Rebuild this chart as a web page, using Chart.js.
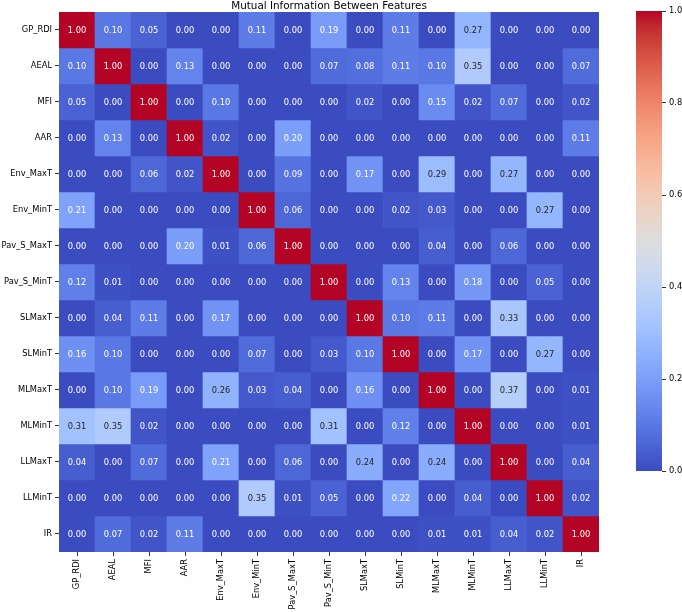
<!DOCTYPE html>
<html>
<head>
<meta charset="utf-8">
<script src="https://cdn.jsdelivr.net/npm/chart.js@4.4.0/dist/chart.umd.min.js"></script>
<style>
  html, body { margin: 0; padding: 0; background: #fff; }
  #wrap { position: relative; width: 682px; height: 612px; overflow: hidden; }
  #heat { position: absolute; left: 0; top: 0; }
  #cbar { position: absolute; left: 600px; top: 0; }
</style>
</head>
<body>
<div id="wrap">
  <canvas id="heat" width="682" height="612"></canvas>
  <canvas id="cbar" width="110" height="612"></canvas>
</div>
<script>
const features = ['GP_RDI', 'AEAL', 'MFI', 'AAR', 'Env_MaxT', 'Env_MinT', 'Pav_S_MaxT',
  'Pav_S_MinT', 'SLMaxT', 'SLMinT', 'MLMaxT', 'MLMinT', 'LLMaxT', 'LLMinT', 'IR'];

// one row of the mutual information matrix per feature
const gpRdi    = [1.00, 0.10, 0.05, 0.00, 0.00, 0.11, 0.00, 0.19, 0.00, 0.11, 0.00, 0.27, 0.00, 0.00, 0.00];
const aeal     = [0.10, 1.00, 0.00, 0.13, 0.00, 0.00, 0.00, 0.07, 0.08, 0.11, 0.10, 0.35, 0.00, 0.00, 0.07];
const mfi      = [0.05, 0.00, 1.00, 0.00, 0.10, 0.00, 0.00, 0.00, 0.02, 0.00, 0.15, 0.02, 0.07, 0.00, 0.02];
const aar      = [0.00, 0.13, 0.00, 1.00, 0.02, 0.00, 0.20, 0.00, 0.00, 0.00, 0.00, 0.00, 0.00, 0.00, 0.11];
const envMaxT  = [0.00, 0.00, 0.06, 0.02, 1.00, 0.00, 0.09, 0.00, 0.17, 0.00, 0.29, 0.00, 0.27, 0.00, 0.00];
const envMinT  = [0.21, 0.00, 0.00, 0.00, 0.00, 1.00, 0.06, 0.00, 0.00, 0.02, 0.03, 0.00, 0.00, 0.27, 0.00];
const pavSMaxT = [0.00, 0.00, 0.00, 0.20, 0.01, 0.06, 1.00, 0.00, 0.00, 0.00, 0.04, 0.00, 0.06, 0.00, 0.00];
const pavSMinT = [0.12, 0.01, 0.00, 0.00, 0.00, 0.00, 0.00, 1.00, 0.00, 0.13, 0.00, 0.18, 0.00, 0.05, 0.00];
const slMaxT   = [0.00, 0.04, 0.11, 0.00, 0.17, 0.00, 0.00, 0.00, 1.00, 0.10, 0.11, 0.00, 0.33, 0.00, 0.00];
const slMinT   = [0.16, 0.10, 0.00, 0.00, 0.00, 0.07, 0.00, 0.03, 0.10, 1.00, 0.00, 0.17, 0.00, 0.27, 0.00];
const mlMaxT   = [0.00, 0.10, 0.19, 0.00, 0.26, 0.03, 0.04, 0.00, 0.16, 0.00, 1.00, 0.00, 0.37, 0.00, 0.01];
const mlMinT   = [0.31, 0.35, 0.02, 0.00, 0.00, 0.00, 0.00, 0.31, 0.00, 0.12, 0.00, 1.00, 0.00, 0.00, 0.01];
const llMaxT   = [0.04, 0.00, 0.07, 0.00, 0.21, 0.00, 0.06, 0.00, 0.24, 0.00, 0.24, 0.00, 1.00, 0.00, 0.04];
const llMinT   = [0.00, 0.00, 0.00, 0.00, 0.00, 0.35, 0.01, 0.05, 0.00, 0.22, 0.00, 0.04, 0.00, 1.00, 0.02];
const ir       = [0.00, 0.07, 0.02, 0.11, 0.00, 0.00, 0.00, 0.00, 0.00, 0.00, 0.01, 0.01, 0.04, 0.02, 1.00];

const mi = [gpRdi, aeal, mfi, aar, envMaxT, envMinT, pavSMaxT, pavSMinT,
  slMaxT, slMinT, mlMaxT, mlMinT, llMaxT, llMinT, ir];

const cbTicks = [0, 0.2, 0.4, 0.6, 0.8, 1.0];

// matplotlib coolwarm control points
const coolwarmStops = [
  [0.2298057, 0.298717966, 0.753683153], [0.26623388, 0.353094838, 0.801466763],
  [0.30386891, 0.406535296, 0.84495867], [0.342804478, 0.458757618, 0.883725899],
  [0.38301334, 0.50941904, 0.917387822], [0.424369608, 0.558148092, 0.945619588],
  [0.46666708, 0.604562568, 0.968154911], [0.509635204, 0.648280772, 0.98478814],
  [0.552953156, 0.688929332, 0.995375608], [0.596262162, 0.726149107, 0.999836203],
  [0.639176211, 0.759599947, 0.998151185], [0.681291281, 0.788964712, 0.990363227],
  [0.722193294, 0.813952739, 0.976574709], [0.761464949, 0.834302879, 0.956945269],
  [0.798691636, 0.849786142, 0.931688648], [0.833466556, 0.860207984, 0.901068838],
  [0.865395197, 0.86541021, 0.865395561], [0.897787179, 0.848937047, 0.820880546],
  [0.924127593, 0.827384882, 0.774508472], [0.944468518, 0.800927443, 0.726736146],
  [0.958852946, 0.769767752, 0.678007945], [0.96732803, 0.734132809, 0.628751763],
  [0.969954137, 0.694266682, 0.579375448], [0.966811177, 0.650421156, 0.530263762],
  [0.958003065, 0.602842431, 0.481775914], [0.943660866, 0.551750968, 0.434243684],
  [0.923944917, 0.49730856, 0.387970225], [0.89904617, 0.439559467, 0.343229596],
  [0.869186849, 0.378313092, 0.300267182], [0.834620542, 0.312874446, 0.259301199],
  [0.795631745, 0.24128379, 0.220525627], [0.752534934, 0.157246067, 0.184115123],
  [0.705673158, 0.01555616, 0.150232812]
];

function coolwarm(t) {
  t = Math.min(1, Math.max(0, t));
  const pos = t * (coolwarmStops.length - 1);
  const i = Math.min(Math.floor(pos), coolwarmStops.length - 2);
  const f = pos - i;
  const a = coolwarmStops[i], b = coolwarmStops[i + 1];
  return a.map((v, k) => v + (b[k] - v) * f);
}

function rgbStr(c) {
  return 'rgb(' + c.map(v => Math.round(v * 255)).join(',') + ')';
}

// same rule seaborn uses to pick annotation colour
function textColor(v) {
  const lin = coolwarm(v).map(c => c <= 0.03928 ? c / 12.92 : Math.pow((c + 0.055) / 1.055, 2.4));
  const lum = 0.2126 * lin[0] + 0.7152 * lin[1] + 0.0722 * lin[2];
  return lum > 0.408 ? 'rgb(38,38,38)' : '#ffffff';
}

const tickFont = { family: 'DejaVu Sans', size: 8.3 };

const annotate = {
  id: 'annotate',
  afterDatasetsDraw(chart) {
    const { ctx, scales: { x, y } } = chart;
    ctx.save();
    ctx.font = '8.3px "DejaVu Sans"';
    ctx.textAlign = 'center';
    ctx.textBaseline = 'middle';
    mi.forEach((row, r) => {
      row.forEach((v, c) => {
        ctx.fillStyle = textColor(v);
        ctx.fillText(v.toFixed(2), x.getPixelForValue(c), y.getPixelForValue(r) + 0.5);
      });
    });
    ctx.restore();
  },
};

new Chart(document.getElementById('heat'), {
  type: 'bar',
  data: {
    labels: features,
    datasets: mi.map((row, r) => ({
      data: row.map(() => [r - 0.5, r + 0.5]),
      backgroundColor: row.map(v => rgbStr(coolwarm(v))),
      borderWidth: 0,
      stack: 'cells',
      categoryPercentage: 1,
      barPercentage: 1,
    })),
  },
  options: {
    responsive: false,
    animation: false,
    layout: { padding: { left: 0, right: 83, top: 0, bottom: 0 } },
    plugins: {
      legend: { display: false },
      tooltip: { enabled: false },
      title: {
        display: true,
        fullSize: false,
        text: 'Mutual Information Between Features',
        color: '#000',
        font: { family: 'DejaVu Sans', size: 10.4, weight: 'normal', lineHeight: 1.15 },
        padding: 0,
      },
    },
    scales: {
      x: {
        type: 'category',
        stacked: true,
        offset: true,
        afterFit: (s) => { s.height = 60; },
        grid: { offset: false, drawOnChartArea: false, tickLength: 4, color: '#000', lineWidth: 0.8 },
        border: { display: false },
        ticks: { minRotation: 90, maxRotation: 90, autoSkip: false, font: tickFont, color: '#000', padding: 3 },
      },
      y: {
        type: 'linear',
        stacked: false,
        reverse: true,
        min: -0.5,
        max: 14.5,
        afterFit: (s) => { s.width = 59; },
        afterBuildTicks: (s) => { s.ticks = features.map((_, i) => ({ value: i })); },
        grid: { drawOnChartArea: false, tickLength: 4, color: '#000', lineWidth: 0.8 },
        border: { display: false },
        ticks: { autoSkip: false, font: tickFont, color: '#000', padding: 3, callback: (v) => features[v] },
      },
    },
  },
  plugins: [annotate],
});

new Chart(document.getElementById('cbar'), {
  type: 'bar',
  data: {
    labels: [''],
    datasets: [{
      data: [[cbTicks[0], cbTicks[cbTicks.length - 1]]],
      backgroundColor: (c) => {
        const area = c.chart.chartArea;
        if (!area) return rgbStr(coolwarm(0));
        const g = c.chart.ctx.createLinearGradient(0, area.bottom, 0, area.top);
        coolwarmStops.forEach((s, i) => g.addColorStop(i / (coolwarmStops.length - 1), rgbStr(s)));
        return g;
      },
      borderWidth: 0,
      categoryPercentage: 1,
      barPercentage: 1,
    }],
  },
  options: {
    responsive: false,
    animation: false,
    layout: { padding: { left: 36, right: 28, top: 11, bottom: 141 } },
    plugins: { legend: { display: false }, tooltip: { enabled: false } },
    scales: {
      x: { display: false },
      y: {
        position: 'right',
        min: 0,
        max: 1,
        afterFit: (s) => { s.width = 20; },
        afterBuildTicks: (s) => { s.ticks = cbTicks.map(v => ({ value: v })); },
        grid: { drawOnChartArea: false, tickLength: 4, color: '#000', lineWidth: 0.8 },
        border: { display: false },
        ticks: { font: tickFont, color: '#000', padding: 3, callback: (v) => v.toFixed(1) },
      },
    },
  },
});
</script>
</body>
</html>
